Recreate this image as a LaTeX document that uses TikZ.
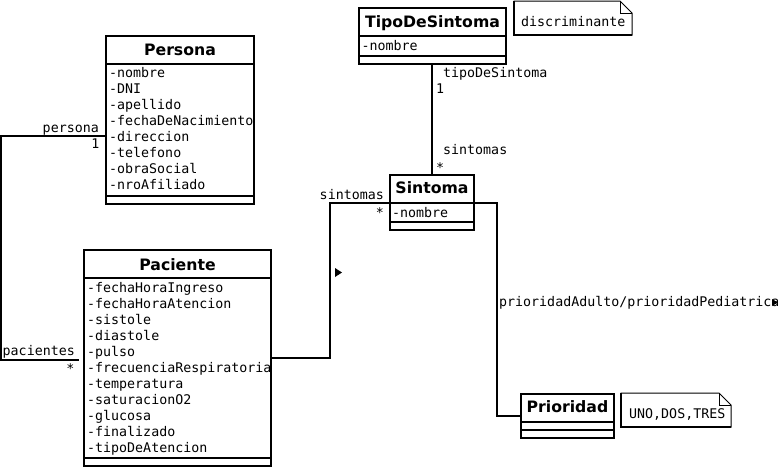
\documentclass[tikz,border=0pt]{standalone}
\usepackage{fontspec}
\setmainfont{DejaVu Sans}
\setmonofont{DejaVu Sans Mono}
\begin{document}
\begin{tikzpicture}[x=1pt,y=-1pt,
  cls/.style={draw,line width=2pt,inner sep=0pt,outer sep=0pt,rectangle},
  ttl/.style={font=\bfseries\fontsize{15.7}{18}\selectfont,inner sep=0pt,anchor=base},
  att/.style={font=\ttfamily\fontsize{13.3}{16}\selectfont,inner sep=0pt,anchor=base west},
  lbl/.style={font=\ttfamily\fontsize{13.3}{16}\selectfont,inner sep=0pt},
  sepline/.style={line width=2pt},
  conn/.style={line width=2pt},
  notebox/.style={line width=1pt},
  dir/.style={fill=black},
]
\useasboundingbox (0,0) rectangle (778,467);

% Persona
\node[cls,minimum width=148pt,minimum height=168pt] (per) at (180,120) {};
\node[ttl] (perT) at (180,55) {Persona};
\draw[sepline] (per.west |- 0,64) -- (per.east |- 0,64);
\draw[sepline] (per.west |- 0,196) -- (per.east |- 0,196);
\foreach \t [count=\i from 0] in {nombre,DNI,apellido,fechaDeNacimiento,direccion,telefono,obraSocial,nroAfiliado}
  \node[att] (perA\i) at (109,{77+16*\i}) {-\t};

% Paciente
\node[cls,minimum width=187pt,minimum height=216pt] (pac) at (177.5,358) {};
\node[ttl] (pacT) at (177.5,270) {Paciente};
\draw[sepline] (pac.west |- 0,278) -- (pac.east |- 0,278);
\draw[sepline] (pac.west |- 0,458) -- (pac.east |- 0,458);
\foreach \t [count=\i from 0] in {fechaHoraIngreso,fechaHoraAtencion,sistole,diastole,pulso,frecuenciaRespiratoria,temperatura,saturacionO2,glucosa,finalizado,tipoDeAtencion}
  \node[att] (pacA\i) at (87,{292+16*\i}) {-\t};

% TipoDeSintoma
\node[cls,minimum width=147pt,minimum height=56pt] (tds) at (432.5,36) {};
\node[ttl] (tdsT) at (432.5,27) {TipoDeSintoma};
\draw[sepline] (tds.west |- 0,36) -- (tds.east |- 0,36);
\draw[sepline] (tds.west |- 0,56) -- (tds.east |- 0,56);
\node[att] (tdsA0) at (361.5,50) {-nombre};

% Sintoma
\node[cls,minimum width=84pt,minimum height=55pt] (sin) at (432,202.5) {};
\node[ttl] (sinT) at (432,193) {Sintoma};
\draw[sepline] (sin.west |- 0,203) -- (sin.east |- 0,203);
\draw[sepline] (sin.west |- 0,222) -- (sin.east |- 0,222);
\node[att] (sinA0) at (392,217) {-nombre};

% Prioridad
\node[cls,minimum width=93pt,minimum height=44pt] (pri) at (567.5,416) {};
\node[ttl] (priT) at (567.5,412) {Prioridad};
\draw[sepline] (pri.west |- 0,422) -- (pri.east |- 0,422);
\draw[sepline] (pri.west |- 0,430) -- (pri.east |- 0,430);

% notes
\node[att] (n1) at (521,26.5) {discriminante};
\draw[notebox] (514,1) -- (620,1) -- (632,13) -- (632,35) -- (514,35) -- cycle;
\draw[notebox] (620,1) -- (620,13) -- (632,13);
\draw[line width=2pt] (514,1) -- (514,35) -- (632,35);
\node[att] (n2) at (629,418) {UNO,DOS,TRES};
\draw[notebox] (621,393) -- (719,393) -- (731,405) -- (731,427) -- (621,427) -- cycle;
\draw[notebox] (719,393) -- (719,405) -- (731,405);
\draw[line width=2pt] (621,393) -- (621,427) -- (731,427);

% connectors
\coordinate (pacEnd) at (79,360);
\draw[conn] (per.west |- 0,136) -| (1,360) -- (pacEnd);
\draw[conn] (tds.south -| sin.north) -- (sin.north);
\draw[conn] (pac.east |- 0,358) -| (330,203) -- (sin.west |- 0,203);
\draw[conn] (sin.east |- 0,203) -| (497,416) -- (pri.west |- 0,416);

% labels
\node[lbl,anchor=base east] (l1) at (99,132) {persona};
\node[lbl,anchor=base east] (l2) at (99.5,148) {1};
\node[lbl,anchor=base east] (l3) at (75,355) {pacientes};
\node[lbl,anchor=base east] (l4) at (74.5,373) {*};
\node[lbl,anchor=base west] (l5) at (443,77) {tipoDeSintoma};
\node[lbl,anchor=base west] (l6) at (436,93) {1};
\node[lbl,anchor=base west] (l7) at (443,154) {sintomas};
\node[lbl,anchor=base west] (l8) at (436,172) {*};
\node[lbl,anchor=base east] (l9) at (384,199) {sintomas};
\node[lbl,anchor=base east] (l10) at (384,217) {*};
\node[lbl,anchor=base west] (l11) at (499,306) {prioridadAdulto/prioridadPediatrica};

% direction markers
\fill[dir] (335,268) -- (342,272.5) -- (335,277) -- cycle;
\fill[dir] (772,299) -- (778,302.5) -- (772,306) -- cycle;
\end{tikzpicture}
\end{document}
